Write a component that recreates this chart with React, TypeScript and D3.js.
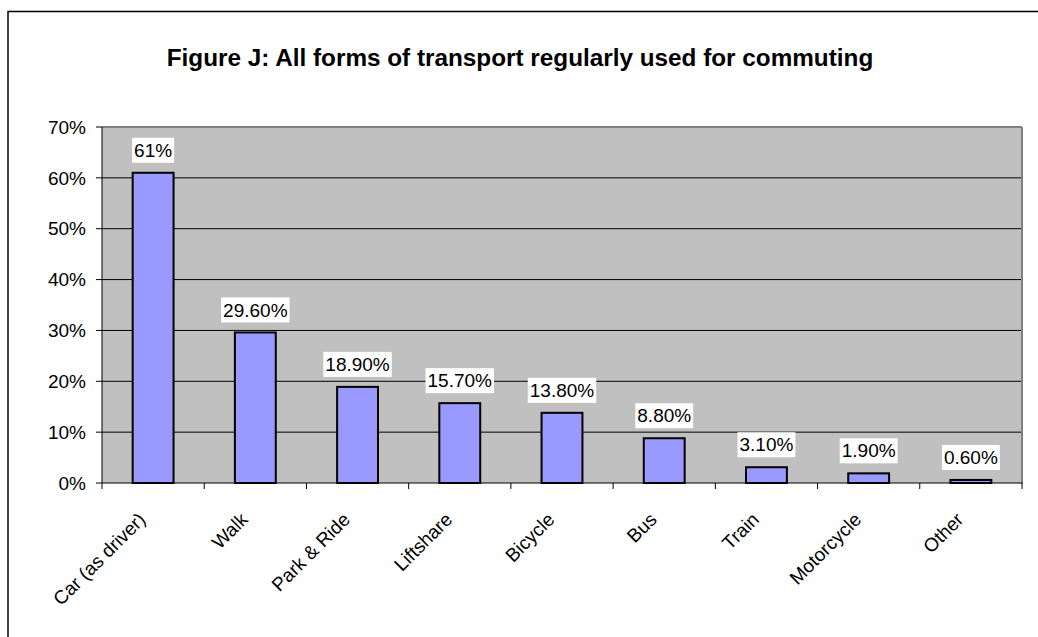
import React from "react";
import * as d3 from "d3";

const categories = ["Car (as driver)", "Walk", "Park & Ride", "Liftshare", "Bicycle", "Bus", "Train", "Motorcycle", "Other"];
const values = [61, 29.6, 18.9, 15.7, 13.8, 8.8, 3.1, 1.9, 0.6];
const valueLabels = ["61%", "29.60%", "18.90%", "15.70%", "13.80%", "8.80%", "3.10%", "1.90%", "0.60%"];
const yTicks = [0, 10, 20, 30, 40, 50, 60, 70];
const title = "Figure J: All forms of transport regularly used for commuting";

function textWidth(s: string, size: number) {
  let w = 0;
  for (const ch of s) w += ch === "%" ? 0.889 : ch === "." ? 0.278 : 0.556;
  return w * size;
}

export default function App() {
  const W = 1038, H = 637;
  const left = 102, right = 1022, top = 127, bottom = 483;
  const fs = 19;
  const x = d3.scaleBand<string>().domain(categories).range([left, right]).paddingInner(0).paddingOuter(0);
  const y = d3.scaleLinear().domain([0, 70]).range([bottom, top]);
  const bw = x.bandwidth() * 0.4;
  const font = "Arial, 'Liberation Sans', sans-serif";
  return (
    <svg width={W} height={H} style={{ position: "absolute", left: 0, top: 0 }} fontFamily={font}>
      <rect x={0} y={0} width={W} height={H} fill="#fff" />
      <rect x={8} y={11.5} width={1100} height={700} fill="none" stroke="#000" strokeWidth={1.5} />
      <text x={520} y={66} textAnchor="middle" fontSize={24.3} fontWeight="bold">{title}</text>
      <rect x={left} y={top} width={right - left} height={bottom - top} fill="#C0C0C0" />
      {yTicks.filter(t => t > 0 && t < 70).map(t => (
        <line key={t} x1={left} x2={right} y1={y(t)} y2={y(t)} stroke="#000" strokeWidth={1} />
      ))}
      <line x1={left} x2={right} y1={top} y2={top} stroke="#808080" strokeWidth={2} />
      <line x1={right} x2={right} y1={top} y2={bottom} stroke="#808080" strokeWidth={2} />
      {categories.map((c, i) => {
        const cx = (x(c) as number) + x.bandwidth() / 2;
        return (
          <rect key={c} x={cx - bw / 2} y={y(values[i])} width={bw} height={bottom - y(values[i])}
            fill="#9999FF" stroke="#000" strokeWidth={2} />
        );
      })}
      <line x1={left} x2={left} y1={top} y2={bottom} stroke="#000" strokeWidth={1} />
      <line x1={left} x2={right + 1} y1={bottom} y2={bottom} stroke="#000" strokeWidth={1} />
      {yTicks.map(t => (
        <g key={t}>
          <line x1={left - 6} x2={left} y1={y(t)} y2={y(t)} stroke="#000" />
          <text x={86} y={y(t)} dy="0.35em" textAnchor="end" fontSize={fs}>{t}%</text>
        </g>
      ))}
      {[...categories.map(c => x(c) as number), right].map((tx, i) => (
        <line key={i} x1={tx} x2={tx} y1={bottom} y2={bottom + 6} stroke="#000" />
      ))}
      {categories.map((c, i) => {
        const cx = (x(c) as number) + x.bandwidth() / 2;
        const lbl = valueLabels[i];
        const tw = textWidth(lbl, fs) + 4;
        const by = y(values[i]) - 10;
        return (
          <g key={c}>
            <rect x={cx - tw / 2} y={by - 25} width={tw} height={25} fill="#fff" />
            <text x={cx} y={by - 12.5} dy="0.35em" textAnchor="middle" fontSize={fs}>{lbl}</text>
          </g>
        );
      })}
      {categories.map(c => {
        const cx = (x(c) as number) + x.bandwidth() / 2;
        return (
          <text key={c} transform={`translate(${cx - 11},${bottom + 33}) rotate(-45)`} textAnchor="end" dy="0.35em" fontSize={fs}>{c}</text>
        );
      })}
    </svg>
  );
}
